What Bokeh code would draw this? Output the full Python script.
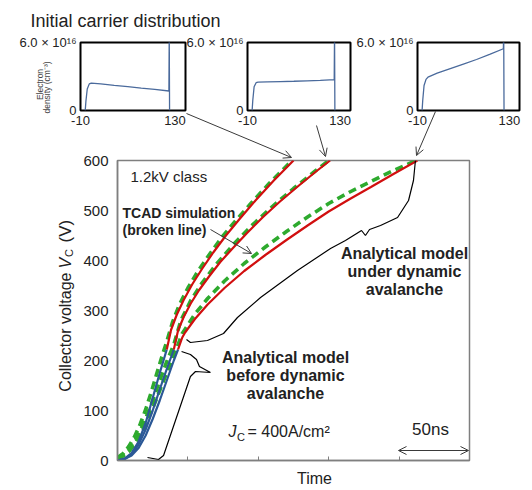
from math import pi
from bokeh.plotting import figure
from bokeh.layouts import column
from bokeh.models import Label, Arrow, OpenHead, FixedTicker, Range1d
from bokeh.embed import file_html
from bokeh.resources import INLINE

FONT = "Liberation Sans"
TXT = "#222222"

# ---------------- data (time in ns, collector voltage in V) ----------------
# Analytical model before dynamic avalanche (blue)
t_blue1 = [0, 5, 10, 15, 20, 25, 30, 35]
v_blue1 = [0, 4, 15, 38, 75, 125, 175, 222]
t_blue2 = [0, 5, 10, 15, 20, 25, 30, 35, 40]
v_blue2 = [0, 3, 12, 32, 62, 100, 142, 183, 222]
t_blue3 = [0, 5, 10, 15, 20, 25, 30, 35, 40, 43]
v_blue3 = [0, 3, 10, 25, 50, 83, 120, 160, 200, 222]

# Analytical model under dynamic avalanche (red)
t_red1 = [35, 38, 42, 47, 53, 60, 68, 77, 87, 98, 111, 125]
v_red1 = [222, 261, 291, 321, 352, 383, 416, 450, 484, 520, 560, 600]
t_red2 = [40, 43, 47, 52, 58, 65, 73, 82, 92, 103, 115, 128, 141, 151]
v_red2 = [222, 260, 287, 314, 341, 368, 397, 425, 455, 486, 517, 548, 578, 600]
t_red3 = [43, 46, 48, 55, 64, 76, 90, 105, 120, 135, 150, 165, 180, 196, 213]
v_red3 = [222, 246, 256, 283, 312, 345, 379, 411, 441, 470, 498, 523, 547, 573, 600]

# TCAD simulation (green, broken line)
t_tcad1 = [0, 4, 8, 12, 16, 20, 24, 28, 32, 35, 39, 44, 50, 57, 65, 74, 84, 95, 108, 124]
v_tcad1 = [6, 14, 28, 47, 72, 102, 137, 175, 212, 238, 276, 312, 345, 378, 411, 446, 480, 515, 555, 600]
t_tcad2 = [0, 4, 8, 12, 16, 20, 25, 30, 35, 40, 45, 52, 60, 70, 82, 95, 110, 125, 140, 150]
v_tcad2 = [5, 11, 22, 38, 58, 84, 120, 160, 198, 232, 280, 320, 355, 392, 431, 469, 508, 544, 578, 600]
t_tcad3 = [0, 4, 8, 12, 16, 20, 25, 30, 35, 40, 46, 55, 64, 76, 90, 105, 120, 135, 150, 165, 180, 196, 212]
v_tcad3 = [4, 9, 18, 32, 50, 72, 104, 140, 176, 210, 254, 293, 324, 359, 394, 427, 458, 487, 514, 537, 558, 580, 600]

y_ticks = [0, 100, 200, 300, 400, 500, 600]
x_ticks = [50, 100, 150, 200]

# Braces (annotation paths, t / V)
brace_dyn_t = [211.6, 210.2, 206.7, 198.9, 186.8, 179.0, 176.1, 173.3, 161.9, 151.3, 127.8, 101.6, 85.2, 75.3, 63.9, 51.8, 49.0]
brace_dyn_v = [600, 560, 520, 486, 470, 462, 450, 460, 440, 424, 380, 326, 286, 254, 240, 236, 242]
brace_pre_t = [45.5, 51.8, 56.1, 58.2, 66.0, 55.4, 51.8, 32.7, 29.1, 21.3]
brace_pre_v = [218, 212, 202, 188, 176, 178, 168, 10, 2, 6]

# Initial carrier distribution insets (position, density in 1e16 cm^-3)
pos = [-3, -2, 0, 3, 6, 20, 40, 60, 80, 100, 121, 121.5, 122]
dens1 = [0, 0.8, 1.9, 2.35, 2.42, 2.35, 2.22, 2.10, 1.98, 1.87, 1.72, 7, 0]
dens2 = [0, 0.9, 2.1, 2.45, 2.50, 2.52, 2.55, 2.58, 2.62, 2.66, 2.72, 7, 0]
dens3 = [0, 0.9, 2.2, 2.75, 2.95, 3.30, 3.70, 4.10, 4.50, 4.95, 5.45, 7, 0]
inset_xticks = [-10, 130]
inset_yticks = [0, 6]


def T(px):
    # page pixel -> main chart time
    return (px - 117.0) * 250.0 / 352.0


def V(py):
    # page pixel -> main chart voltage
    return (460.0 - py) * 600.0 / 300.0


def label(fig, x, y, text, size, **kw):
    opts = dict(text_font=FONT, text_font_size=size, text_color=TXT,
                text_align="left", text_baseline="middle")
    opts.update(kw)
    fig.add_layout(Label(x=x, y=y, text=text, **opts))


def no_align(fig):
    try:
        fig.frame_align = False
    except Exception:
        pass


# ---------------- insets ----------------
def make_inset(frame_w, right, dens, left_pos, first):
    f = figure(width=80 + frame_w + right, height=132,
               x_range=Range1d(-10, 145.6), y_range=Range1d(0, 6),
               output_backend="svg", toolbar_location=None,
               min_border_left=80, min_border_right=right,
               min_border_top=42, min_border_bottom=22)
    no_align(f)
    f.margin = (0 if first else -132, 0, 0, left_pos)
    f.border_fill_color = None
    f.background_fill_color = "white"
    f.outline_line_color = "black"
    f.outline_line_width = 2
    f.grid.visible = False
    f.line(pos, dens, line_color="#4a6a9c", line_width=1.3)
    for ax in (f.xaxis[0], f.yaxis[0]):
        ax.axis_line_color = None
        ax.major_tick_line_color = None
        ax.minor_tick_line_color = None
        ax.major_tick_out = 0
        ax.major_tick_in = 0
        ax.major_label_text_font = FONT
        ax.major_label_text_font_size = "13px"
        ax.major_label_text_color = TXT
    f.xaxis.ticker = FixedTicker(ticks=inset_xticks)
    f.yaxis.ticker = FixedTicker(ticks=inset_yticks)
    f.yaxis.major_label_overrides = {0: "0", 6: "6.0 × 10¹⁶"}
    f.xaxis.major_label_overrides = {-10: "-10", 130: "130"}
    f.yaxis.major_label_standoff = 4
    f.xaxis.major_label_standoff = 5
    return f


in1 = make_inset(105, 12, dens1, 0, True)
in2 = make_inset(103, 12, dens2, 167, False)
in3 = make_inset(102, 10, dens3, 337, False)

# ---------------- main chart ----------------
p = figure(width=520, height=348, x_range=Range1d(0, 250), y_range=Range1d(0, 600),
           output_backend="svg", toolbar_location=None,
           min_border_left=117, min_border_right=51, min_border_top=28, min_border_bottom=20)
no_align(p)
p.border_fill_color = None
p.background_fill_color = "white"
p.outline_line_color = "#7f7f7f"
p.outline_line_width = 1.5
p.grid.visible = False

p.yaxis.ticker = FixedTicker(ticks=y_ticks)
p.yaxis.major_tick_line_color = None
p.yaxis.minor_tick_line_color = None
p.yaxis.major_tick_out = 0
p.yaxis.major_tick_in = 0
p.yaxis.axis_line_color = "#7f7f7f"
p.yaxis.axis_line_width = 1.5
p.yaxis.major_label_text_font = FONT
p.yaxis.major_label_text_font_size = "15px"
p.yaxis.major_label_text_color = TXT
p.yaxis.major_label_standoff = 9

p.xaxis.ticker = FixedTicker(ticks=x_ticks)
p.xaxis.major_tick_in = 4
p.xaxis.major_tick_out = 0
p.xaxis.major_tick_line_color = "#7f7f7f"
p.xaxis.minor_tick_line_color = None
p.xaxis.axis_line_color = "#7f7f7f"
p.xaxis.axis_line_width = 1.5
p.xaxis.major_label_overrides = {t: "" for t in x_ticks}
p.xaxis.major_label_text_font_size = "1px"
p.xaxis.major_label_standoff = 0

GREEN = "#2eaa2e"
RED = "#d10f0f"
BLUE = "#2b5896"

for tt, vv in ((t_tcad1, v_tcad1), (t_tcad2, v_tcad2), (t_tcad3, v_tcad3)):
    p.line(tt, vv, line_color=GREEN, line_width=3.6, line_dash="8 5")
for tt, vv in ((t_blue1, v_blue1), (t_blue2, v_blue2), (t_blue3, v_blue3)):
    p.line(tt, vv, line_color=BLUE, line_width=2.2)
for tt, vv in ((t_red1, v_red1), (t_red2, v_red2), (t_red3, v_red3)):
    p.line(tt, vv, line_color=RED, line_width=2.2)

p.line(brace_dyn_t, brace_dyn_v, line_color="black", line_width=1.2)
p.line(brace_pre_t, brace_pre_v, line_color="black", line_width=1.2)

ARC = "#3a3a3a"
p.add_layout(Arrow(end=OpenHead(size=8, line_color=ARC, line_width=1),
                   x_start=T(210), y_start=V(229), x_end=T(251), y_end=V(253),
                   line_color=ARC, line_width=1))
p.add_layout(Arrow(start=OpenHead(size=8, line_color=ARC, line_width=1),
                   end=OpenHead(size=8, line_color=ARC, line_width=1),
                   x_start=T(398), y_start=V(450), x_end=T(468), y_end=V(450),
                   line_color=ARC, line_width=1))

label(p, T(130), V(176), "1.2kV class", "15px")
label(p, T(122), V(212), "TCAD simulation", "14px", text_font_style="bold")
label(p, T(122), V(229), "(broken line)", "14px", text_font_style="bold")
for txt, yy in (("Analytical model", 253), ("under dynamic", 271), ("avalanche", 289)):
    label(p, T(404), V(yy), txt, "16px", text_font_style="bold", text_align="center")
for txt, yy in (("Analytical model", 357), ("before dynamic", 375), ("avalanche", 393)):
    label(p, T(285), V(yy), txt, "16px", text_font_style="bold", text_align="center")
label(p, T(228), V(431), "J", "16px", text_font_style="italic")
label(p, T(236.5), V(431), "C", "11px", y_offset=-5)
label(p, T(247), V(431), "= 400A/cm²", "16px")
label(p, T(430), V(429), "50ns", "17px", text_align="center")

# ---------------- overlay for texts and connectors outside the frames ----------------
OW, OH = 520, 488
ov = figure(width=OW, height=OH, x_range=Range1d(0, OW), y_range=Range1d(OH, 0),
            output_backend="svg", toolbar_location=None,
            x_axis_location=None, y_axis_location=None,
            min_border_left=0, min_border_right=0, min_border_top=0, min_border_bottom=0)
no_align(ov)
ov.margin = (-480, 0, 0, 0)
ov.border_fill_color = None
ov.background_fill_color = None
ov.outline_line_color = None
ov.grid.visible = False

label(ov, 30, 20, "Initial carrier distribution", "18px", text_baseline="alphabetic")
label(ov, 39, 84, "Electron", "8.5px", angle=pi / 2, text_align="center", text_color="#444444")
label(ov, 46.5, 87, "density (cm⁻³)", "8.5px", angle=pi / 2, text_align="center", text_color="#444444")

ylx = 64.5
label(ov, ylx, 272, "Collector voltage", "16px", angle=pi / 2, text_align="right")
label(ov, ylx, 268, "V", "16px", angle=pi / 2, text_font_style="italic")
label(ov, ylx, 256.5, "C", "11px", angle=pi / 2, x_offset=4)
label(ov, ylx, 242, "(V)", "17px", angle=pi / 2)
label(ov, 314, 478, "Time", "16px", text_align="center")

for (xs, ys, xe, ye) in ((186, 113, 291, 157), (316, 125, 325, 156), (435, 111, 416, 155)):
    ov.add_layout(Arrow(end=OpenHead(size=8, line_color=ARC, line_width=1),
                        x_start=xs, y_start=ys, x_end=xe, y_end=ye,
                        line_color=ARC, line_width=1))

layout = column(in1, in2, in3, p, ov)
open("out.html", "w").write(file_html(layout, INLINE))
